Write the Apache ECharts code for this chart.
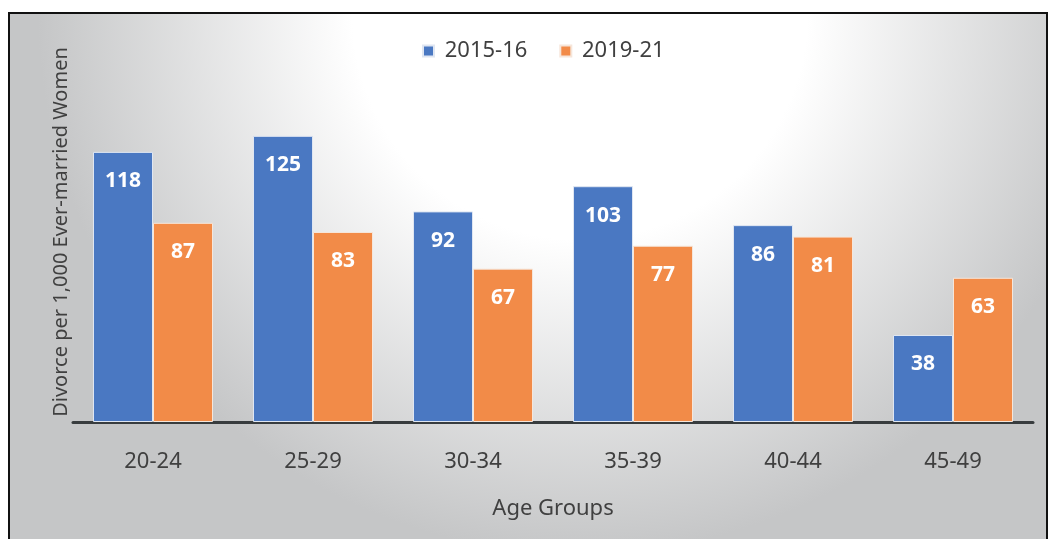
<!DOCTYPE html>
<html>
<head>
<meta charset="utf-8">
<script src="https://cdn.jsdelivr.net/npm/echarts@6/dist/echarts.min.js"></script>
<style>
  html, body { margin: 0; padding: 0; background: #fff; }
  #chart { width: 1052px; height: 539px; }
</style>
</head>
<body>
<div id="chart"></div>
<script>
// age groups and divorce rates per 1,000 ever-married women
const ageGroups = ['20-24', '25-29', '30-34', '35-39', '40-44', '45-49']
const rate2015 = [118, 125, 92, 103, 86, 38]
const rate2019 = [87, 83, 67, 77, 81, 63]

const chart = echarts.init(document.getElementById('chart'))
const textColor = '#404040'
const barLabel = {
  show: true,
  position: 'insideTop',
  distance: 19,
  color: '#fff',
  fontWeight: 'bold',
  fontSize: 21,
  fontFamily: 'Noto Sans'
}

const option = {
  backgroundColor: '#fff',
  graphic: [
    {
      type: 'rect',
      z: -10,
      shape: { x: 9, y: 13, width: 1038, height: 540 },
      style: {
        stroke: '#111',
        lineWidth: 2,
        fill: {
          type: 'radial',
          x: 0.55, y: 0, r: 1.0,
          colorStops: [
            { offset: 0, color: '#ffffff' },
            { offset: 0.42, color: '#ffffff' },
            { offset: 1, color: '#c5c6c7' }
          ]
        }
      }
    }
  ],
  legend: {
    top: 35,
    left: 417,
    itemWidth: 11,
    itemHeight: 11,
    itemGap: 32,
    icon: 'rect',
    formatter: ' {name}',
    textStyle: { color: textColor, fontSize: 22, fontFamily: 'Noto Sans' },
    data: ['2015-16', '2019-21']
  },
  grid: {
    left: 73,
    right: 19,
    top: 42,
    bottom: 117
  },
  xAxis: {
    type: 'category',
    data: ageGroups,
    name: 'Age Groups',
    nameLocation: 'middle',
    nameGap: 76,
    nameTextStyle: { color: textColor, fontSize: 22, fontFamily: 'Noto Sans' },
    axisLine: { lineStyle: { color: '#383c3e', width: 3 } },
    axisTick: { show: false },
    axisLabel: { color: textColor, fontSize: 22, margin: 29, fontFamily: 'Noto Sans' }
  },
  yAxis: {
    type: 'value',
    min: 0,
    max: 166,
    name: 'Divorce per 1,000 Ever-married Women',
    nameLocation: 'middle',
    nameGap: 2,
    nameTextStyle: { color: textColor, fontSize: 20, fontFamily: 'Noto Sans' },
    axisLine: { show: false },
    axisTick: { show: false },
    axisLabel: { show: false },
    splitLine: { show: false }
  },
  series: [
    {
      name: '2015-16',
      type: 'bar',
      data: rate2015,
      barGap: '0%',
      barCategoryGap: '25%',
      itemStyle: { color: '#4a78c2', borderColor: '#dfe6f2', borderWidth: 1 },
      label: barLabel
    },
    {
      name: '2019-21',
      type: 'bar',
      data: rate2019,
      itemStyle: { color: '#f28b48', borderColor: '#f6e6da', borderWidth: 1 },
      label: barLabel
    }
  ]
}
chart.setOption(option)
</script>
</body>
</html>
